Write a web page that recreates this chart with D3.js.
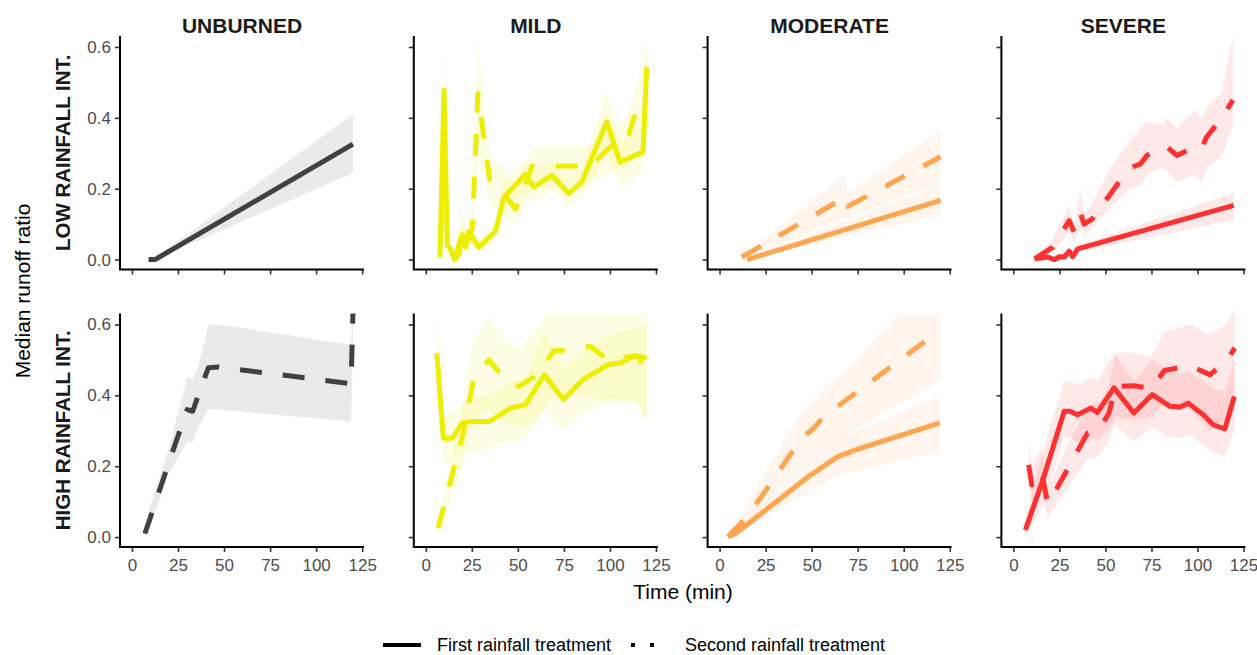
<!DOCTYPE html>
<html>
<head>
<meta charset="utf-8">
<script src="https://cdn.jsdelivr.net/npm/d3@7"></script>
<style>
  body { margin: 0; background: #fff; }
  text { font-family: "Liberation Sans", Arial, sans-serif; }
</style>
</head>
<body>
<svg id="chart" width="1257" height="655"></svg>
<script>
// Facets
const severities = ["UNBURNED", "MILD", "MODERATE", "SEVERE"];
const intensities = ["LOW RAINFALL INT.", "HIGH RAINFALL INT."];
const treatments = ["First rainfall treatment", "Second rainfall treatment"];
const xTicks = [0, 25, 50, 75, 100, 125];
const yTicks = [0.0, 0.2, 0.4, 0.6];

// Each row: [time (min), median runoff ratio, lower band, upper band]
const unburnedLowFirst = [[9, 0, 0, 0.002], [12.5, 0, 0, 0.005], [120, 0.326, 0.245, 0.41]];
const unburnedLowSecond = [];
const unburnedHighFirst = [];
const unburnedHighSecond = [
  [7, 0.01, 0.005, 0.015], [9, 0.04, 0.02, 0.07], [20, 0.21, 0.18, 0.25], [30, 0.36, 0.27, 0.45],
  [33, 0.355, 0.27, 0.445], [36, 0.40, 0.31, 0.48], [41.5, 0.478, 0.36, 0.60], [47, 0.48, 0.36, 0.60],
  [119, 0.433, 0.326, 0.543], [120, 0.635, 0.55, 0.68]
];

const mildLowFirst = [
  [7.7, 0.006, 0, 0.05], [9.9, 0.478, 0.3, 0.59], [11.7, 0.04, 0, 0.1], [13.5, 0.03, 0, 0.06],
  [15.7, 0, 0, 0.02], [18, 0.016, 0, 0.04], [19.9, 0.07, 0.03, 0.13], [21.6, 0.035, 0.01, 0.06],
  [23.4, 0.08, 0.05, 0.12], [28.8, 0.035, 0.02, 0.05], [37.9, 0.08, 0.05, 0.11], [42.4, 0.176, 0.13, 0.22],
  [54, 0.24, 0.19, 0.28], [58.6, 0.205, 0.16, 0.25], [68.6, 0.238, 0.2, 0.28], [77.6, 0.186, 0.15, 0.22],
  [84.8, 0.219, 0.18, 0.26], [98.3, 0.389, 0.3, 0.48], [105.5, 0.275, 0.2, 0.33], [118, 0.304, 0.25, 0.38],
  [120, 0.544, 0.45, 0.64]
];
const mildLowSecond = [
  [16.2, 0.007, 0, 0.03], [19.9, 0.08, 0.05, 0.12], [22.6, 0.045, 0.02, 0.08], [25.3, 0.09, 0.05, 0.14],
  [28.3, 0.469, 0.3, 0.615], [33, 0.29, 0.2, 0.36], [34.8, 0.224, 0.16, 0.29], [42.4, 0.186, 0.12, 0.26],
  [48.7, 0.143, 0.1, 0.2], [54.1, 0.21, 0.16, 0.27], [57.7, 0.264, 0.2, 0.32], [89.3, 0.264, 0.21, 0.32],
  [100.2, 0.318, 0.25, 0.37], [109.2, 0.332, 0.26, 0.4], [112.8, 0.398, 0.3, 0.46], [120, 0.464, 0.38, 0.6]
];
const mildHighFirst = [
  [6, 0.52, 0.4, 0.63], [9.6, 0.279, 0.21, 0.35], [14.4, 0.279, 0.21, 0.35], [19.9, 0.322, 0.24, 0.38],
  [25.3, 0.326, 0.24, 0.40], [34.3, 0.326, 0.25, 0.40], [46, 0.364, 0.27, 0.44], [54.1, 0.374, 0.28, 0.45],
  [64.4, 0.458, 0.36, 0.58], [74.8, 0.388, 0.30, 0.47], [85.7, 0.446, 0.35, 0.53], [99.2, 0.487, 0.39, 0.57],
  [105.5, 0.491, 0.39, 0.58], [113.6, 0.512, 0.38, 0.59], [120, 0.505, 0.33, 0.6]
];
const mildHighSecond = [
  [6.7, 0.025, 0, 0.06], [19.9, 0.284, 0.2, 0.36], [25.6, 0.435, 0.33, 0.55], [34.3, 0.5, 0.36, 0.62],
  [41.5, 0.454, 0.33, 0.56], [50.5, 0.425, 0.31, 0.53], [60.4, 0.458, 0.33, 0.59], [69.4, 0.525, 0.40, 0.65],
  [78.5, 0.529, 0.40, 0.65], [89.3, 0.539, 0.40, 0.65], [97.4, 0.506, 0.38, 0.65], [115.5, 0.51, 0.38, 0.65],
  [120, 0.454, 0.33, 0.65]
];

const moderateLowFirst = [[15, 0, 0, 0.005], [120, 0.167, 0.125, 0.21]];
const moderateLowSecond = [
  [12, 0.007, 0, 0.01], [68.2, 0.176, 0.116, 0.238], [69.5, 0.15, 0.116, 0.187], [120, 0.29, 0.219, 0.365]
];
const moderateHighFirst = [
  [4.5, 0.001, 0, 0.003], [8.7, 0.01, 0.005, 0.02], [48.3, 0.171, 0.13, 0.21], [64.2, 0.227, 0.175, 0.28],
  [75, 0.248, 0.19, 0.3], [119.6, 0.322, 0.241, 0.399]
];
const moderateHighSecond = [
  [4.5, 0.001, 0, 0.003], [12.3, 0.043, 0.03, 0.06], [22.2, 0.11, 0.08, 0.16], [44, 0.275, 0.2, 0.35],
  [52, 0.312, 0.23, 0.39], [56.4, 0.34, 0.25, 0.42], [69.1, 0.388, 0.29, 0.47], [120, 0.585, 0.444, 0.76]
];

const severeLowFirst = [
  [11.5, 0.002, 0, 0.005], [18.7, 0.007, 0, 0.012], [22.3, 0, 0, 0.005], [24.9, 0.008, 0, 0.015],
  [27.6, 0.007, 0, 0.014], [30.3, 0.024, 0.01, 0.035], [32.2, 0.008, 0, 0.016], [34.9, 0.03, 0.02, 0.04],
  [119.6, 0.153, 0.112, 0.188]
];
const severeLowSecond = [
  [11.5, 0.002, 0, 0.005], [21.4, 0.035, 0.02, 0.06], [30.3, 0.11, 0.08, 0.15], [33, 0.077, 0.05, 0.1],
  [36.6, 0.129, 0.09, 0.2], [38.4, 0.1, 0.07, 0.13], [42.9, 0.115, 0.09, 0.16], [52.8, 0.186, 0.15, 0.26],
  [62.7, 0.257, 0.2, 0.33], [69, 0.27, 0.21, 0.37], [72.6, 0.294, 0.24, 0.39], [80.7, 0.318, 0.26, 0.38],
  [83.4, 0.318, 0.25, 0.4], [88.7, 0.294, 0.22, 0.37], [98.6, 0.318, 0.24, 0.42], [102.2, 0.313, 0.22, 0.4],
  [104.9, 0.346, 0.26, 0.43], [113, 0.398, 0.29, 0.47], [119.2, 0.45, 0.38, 0.63]
];
const severeHighFirst = [
  [6.5, 0.02, 0, 0.05], [16, 0.161, 0.09, 0.24], [27.6, 0.355, 0.28, 0.44], [30.7, 0.355, 0.28, 0.44],
  [34.8, 0.345, 0.27, 0.43], [42, 0.364, 0.28, 0.45], [45.6, 0.352, 0.27, 0.44], [54.6, 0.421, 0.32, 0.52],
  [65.4, 0.35, 0.27, 0.44], [75.3, 0.402, 0.31, 0.5], [85.1, 0.369, 0.28, 0.47], [90.5, 0.367, 0.28, 0.46],
  [95, 0.378, 0.29, 0.47], [103.1, 0.345, 0.26, 0.44], [108.5, 0.317, 0.24, 0.42], [114.8, 0.305, 0.23, 0.41],
  [120, 0.397, 0.3, 0.5]
];
const severeHighSecond = [
  [8.3, 0.204, 0.16, 0.27], [10, 0.147, 0.1, 0.2], [15.1, 0.185, 0.14, 0.25], [18.7, 0.095, 0.05, 0.14],
  [24.1, 0.142, 0.1, 0.2], [40.2, 0.293, 0.22, 0.37], [46.5, 0.303, 0.23, 0.38], [51.9, 0.35, 0.27, 0.43],
  [55.5, 0.425, 0.34, 0.52], [65.4, 0.427, 0.33, 0.52], [75, 0.42, 0.34, 0.51], [82, 0.47, 0.38, 0.58],
  [95.9, 0.484, 0.36, 0.6], [106.7, 0.458, 0.3, 0.57], [115.7, 0.496, 0.33, 0.6], [120.2, 0.534, 0.35, 0.65]
];

// Series lookup: [row][col] -> [first, second]
const panels = [
  [[unburnedLowFirst, unburnedLowSecond], [mildLowFirst, mildLowSecond],
   [moderateLowFirst, moderateLowSecond], [severeLowFirst, severeLowSecond]],
  [[unburnedHighFirst, unburnedHighSecond], [mildHighFirst, mildHighSecond],
   [moderateHighFirst, moderateHighSecond], [severeHighFirst, severeHighSecond]]
];

// Styling
const severityColor = { UNBURNED: "#404040", MILD: "#EEEE00", MODERATE: "#FFA54F", SEVERE: "#FF3030" };
const dashFor = ["none", "22,21"];
const lineWidth = 5;
const ribbonOpacity = 0.11;

// Layout
const colLeft = i => 120 + i * 293.8;
const panelW = 244;
const rowTop = [36, 313.5];
const panelH = 233.5;

const svg = d3.select("#chart");

severities.forEach((sev, c) => {
  svg.append("text")
    .attr("x", colLeft(c) + panelW / 2).attr("y", 33)
    .attr("text-anchor", "middle")
    .style("font-size", "21px").style("font-weight", "bold").style("fill", "#1a1a1a")
    .text(sev);
});

intensities.forEach((lab, r) => {
  const cy = rowTop[r] + panelH / 2;
  svg.append("text")
    .attr("transform", `translate(70,${cy}) rotate(-90)`)
    .attr("text-anchor", "middle")
    .style("font-size", "20.5px").style("font-weight", "bold").style("fill", "#1a1a1a")
    .text(lab);
});

intensities.forEach((_, r) => {
  severities.forEach((sev, c) => {
    const left = colLeft(c), top = rowTop[r], bottom = top + panelH;
    const x = d3.scaleLinear().domain([-6.5, 126]).range([left, left + panelW]);
    const y = d3.scaleLinear().domain([-0.028, 0.631]).range([bottom, top]);
    const clipId = `clip-${r}-${c}`;
    svg.append("clipPath").attr("id", clipId)
      .append("rect").attr("x", left).attr("y", top).attr("width", panelW).attr("height", panelH);

    const g = svg.append("g").attr("clip-path", `url(#${clipId})`);
    const area = d3.area().x(d => x(d[0])).y0(d => y(d[2])).y1(d => y(d[3]));
    const line = d3.line().x(d => x(d[0])).y(d => y(d[1]));
    const color = severityColor[sev];
    const series = panels[r][c];

    series.forEach(s => {
      if (!s.length) return;
      g.append("path").attr("d", area(s))
        .attr("fill", color).attr("fill-opacity", ribbonOpacity).attr("stroke", "none");
    });
    series.forEach((s, k) => {
      if (!s.length) return;
      g.append("path").attr("d", line(s))
        .attr("fill", "none").attr("stroke", color).attr("stroke-width", lineWidth)
        .attr("stroke-linejoin", "round").attr("stroke-linecap", "butt")
        .attr("stroke-dasharray", dashFor[k]);
    });

    // Axes
    const yAxis = d3.axisLeft(y).tickValues(yTicks).tickFormat(d3.format(".1f")).tickSize(5).tickPadding(4);
    const ya = svg.append("g").attr("transform", `translate(${left},0)`).call(yAxis);
    if (c > 0) ya.selectAll(".tick text").remove();
    const xAxis = d3.axisBottom(x).tickValues(xTicks).tickFormat(d3.format("d")).tickSize(5).tickPadding(7);
    const xa = svg.append("g").attr("transform", `translate(0,${bottom})`).call(xAxis);
    if (r === 0) xa.selectAll(".tick text").remove();
    [ya, xa].forEach(a => {
      a.select(".domain").remove();
      a.selectAll(".tick line").attr("stroke", "#333").attr("stroke-width", 1.6);
      a.selectAll(".tick text").style("font-size", "17px").style("fill", "#4d4d4d")
        .style("font-family", '"Liberation Sans", Arial, sans-serif');
    });
    svg.append("path")
      .attr("d", `M${left},${top}V${bottom}H${left + panelW}`)
      .attr("fill", "none").attr("stroke", "#000").attr("stroke-width", 2);
  });
});

// Axis titles
svg.append("text").attr("x", 683).attr("y", 599).attr("text-anchor", "middle")
  .style("font-size", "21px").style("fill", "#000").text("Time (min)");
svg.append("text").attr("transform", "translate(30,291) rotate(-90)").attr("text-anchor", "middle")
  .style("font-size", "21px").style("fill", "#000").text("Median runoff ratio");

// Legend
const legendKeys = [{ x: 383, tx: 437 }, { x: 631, tx: 685 }];
treatments.forEach((t, k) => {
  const lk = legendKeys[k];
  svg.append("line").attr("x1", lk.x).attr("x2", lk.x + 38).attr("y1", 645).attr("y2", 645)
    .attr("stroke", "#000").attr("stroke-width", 4)
    .attr("stroke-dasharray", k === 0 ? "none" : "4,15");
  svg.append("text").attr("x", lk.tx).attr("y", 651)
    .style("font-size", "18px").style("fill", "#000").text(t);
});
</script>
</body>
</html>
